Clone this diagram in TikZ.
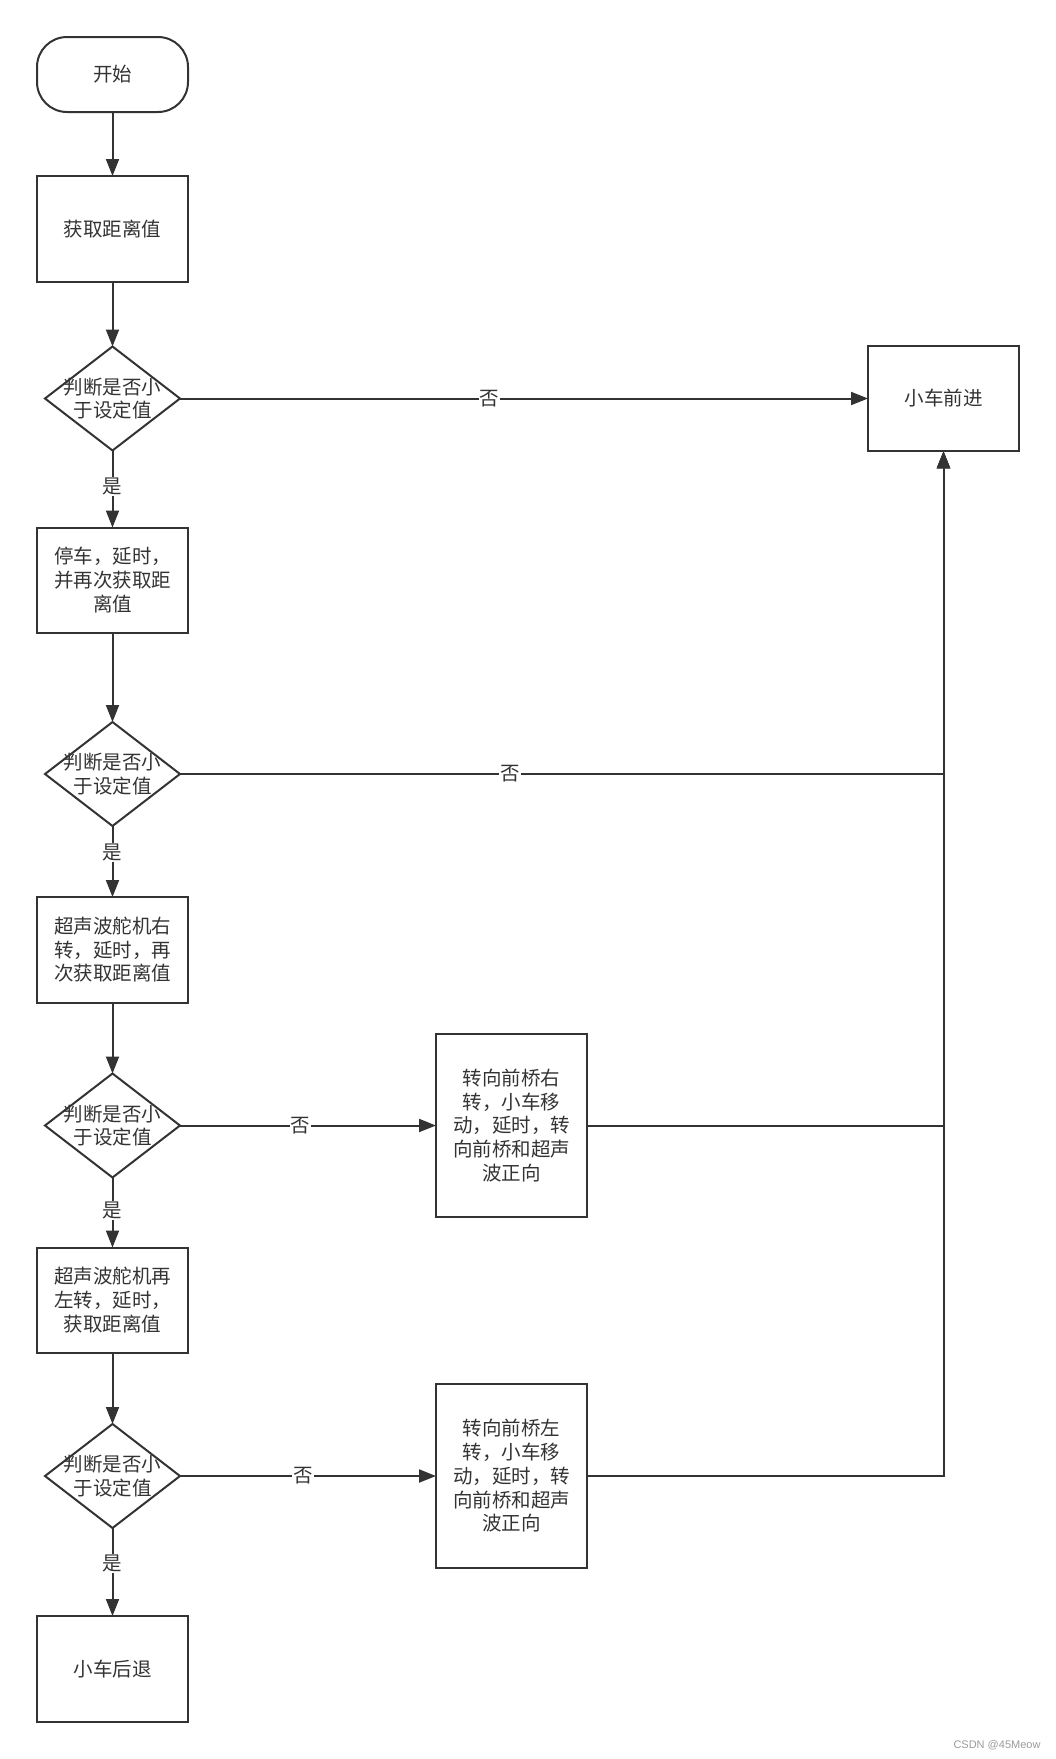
\documentclass[tikz,border=0pt]{standalone}
\usepackage{fontspec}
\setmainfont{Noto Sans CJK SC}
\newfontfamily\markfont{Liberation Sans}
\usepackage{tikz}
\usetikzlibrary{arrows.meta,positioning,shapes.geometric}
\definecolor{InkGray}{HTML}{333333}
\definecolor{MarkGray}{HTML}{9A9A9A}

\begin{document}
\begin{tikzpicture}[
    x=1pt, y=-1pt,
    font=\fontsize{19.5}{23.75}\selectfont,
    line width=2pt,
    term/.style={rectangle, rounded corners=30pt, draw=InkGray, text=InkGray, minimum width=151pt, minimum height=75pt, align=center, outer sep=0pt},
    box/.style={rectangle, draw=InkGray, text=InkGray, minimum width=151pt, minimum height=105.5pt, align=center, inner sep=2pt, outer sep=0pt},
    tall/.style={box, minimum height=183.5pt},
    dec/.style={diamond, draw=InkGray, minimum width=135pt, minimum height=104pt, inner sep=0pt, outer sep=0pt,
        label={[text=InkGray, align=center]center:判断是否小\\于设定值}},
    lab/.style={fill=white, text=InkGray, inner sep=1pt},
    arrow/.style={-{Triangle[length=17pt, width=13pt]}, draw=InkGray}
]
\useasboundingbox (0,0) rectangle (1056,1759);

\node[term] (start) at (112.5,74.5) {开始};
\node[box, below=64pt of start] (get) {获取距离值};
\node[dec, below=65pt of get] (judge1) {};
\node[box, below=77pt of judge1] (stop) {停车，延时，\\并再次获取距\\离值};
\node[dec, below=89pt of stop] (judge2) {};
\node[box, below=71pt of judge2] (servoR) {超声波舵机右\\转，延时，再\\次获取距离值};
\node[dec, below=71pt of servoR] (judge3) {};
\node[box, below=70pt of judge3] (servoL) {超声波舵机再\\左转，延时，\\获取距离值};
\node[dec, below=71pt of servoL] (judge4) {};
\node[box, below=88pt of judge4] (back) {小车后退};
\node[box, right=688pt of judge1] (forward) {小车前进};
\node[tall, right=256pt of judge3] (turnR) {转向前桥右\\转，小车移\\动，延时，转\\向前桥和超声\\波正向};
\node[tall, right=256pt of judge4] (turnL) {转向前桥左\\转，小车移\\动，延时，转\\向前桥和超声\\波正向};
\node[text=MarkGray, font=\markfont\fontsize{11}{13}\selectfont] (mark) at (997,1745) {CSDN @45Meow};

\draw[arrow] (start) -- (get);
\draw[arrow] (get) -- (judge1);
\draw[arrow] (judge1) -- node[lab, pos=0.47] {是} (stop);
\draw[arrow] (judge1) -- node[lab, pos=0.45] {否} (forward);
\draw[arrow] (stop) -- (judge2);
\draw[arrow] (judge2) -- node[lab, pos=0.37] {是} (servoR);
\draw[arrow] (judge2) -| node[lab, pos=0.216] {否} (forward);
\draw[arrow] (servoR) -- (judge3);
\draw[arrow] (judge3) -- node[lab, pos=0.47] {是} (servoL);
\draw[arrow] (judge3) -- node[lab, pos=0.47] {否} (turnR);
\draw[arrow] (turnR) -| (forward);
\draw[arrow] (servoL) -- (judge4);
\draw[arrow] (judge4) -- node[lab, pos=0.4] {是} (back);
\draw[arrow] (judge4) -- node[lab, pos=0.48] {否} (turnL);
\draw[arrow] (turnL) -| (forward);
\end{tikzpicture}
\end{document}
